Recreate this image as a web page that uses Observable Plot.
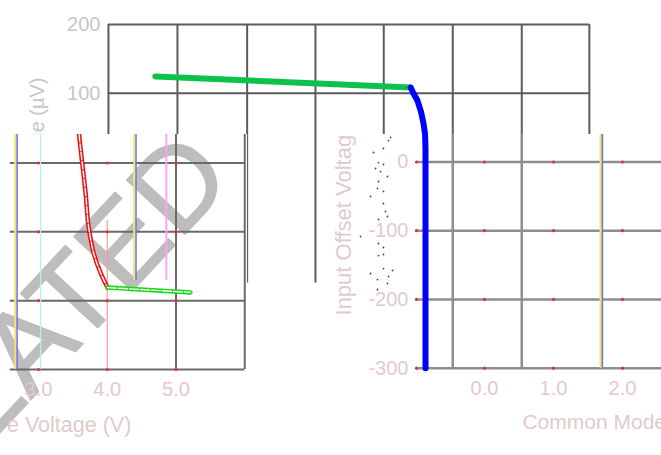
<!DOCTYPE html>
<html>
<head>
<meta charset="utf-8">
<script src="https://cdn.jsdelivr.net/npm/d3@7"></script>
<script src="https://cdn.jsdelivr.net/npm/@observablehq/plot@0.6"></script>
<style>
  body { margin: 0; background: #fff; }
  #chart { position: relative; width: 661px; height: 455px; overflow: hidden; background: #fff;
           font-family: "Liberation Sans", Arial, sans-serif; }
  .tile { position: absolute; overflow: hidden; background: #fff; }
  .tile.clear { background: transparent; }
  .tile svg { display: block; }
</style>
</head>
<body>
<div id="chart"></div>
<script>
// ---------- data ----------
// main chart: Input Offset Voltage (µV) vs Common Mode Voltage (V)
const mainGridCMV = [-5.45, -4.45, -3.44, -2.45, -1.46, -0.46, 0.54, 1.52];
const mainGridVosTop = [200, 100];
const topTickLabels = ["200", "100"];
const mainGridVosLow = [0, -100, -200, -300];
const lowTickLabels = ["0", "-100", "-200", "-300"];
const mainTickCMV = [0, 1, 2];
const mainTickLabels = ["0.0", "1.0", "2.0"];
const lowFrameLeftCMV = -0.986;
const greenCMV = [-4.77, -1.07];
const greenVos = [124.4, 108.3];
const blueCMV = [-1.07, -1.03, -0.97, -0.92, -0.884, -0.862, -0.855, -0.855];
const blueVos = [108.3, 100, 89, 73, 56, 41, 20, -300];
const markerCMV = [1.70];
const speckCMV = [-1.609, -1.464, -1.391, -1.362, -1.536, -1.464, -1.580, -1.507, -1.406, -1.536, -1.551, -1.464, -1.652, -1.464, -1.435, -1.406, -1.536, -1.797, -1.536, -1.464, -1.536, -1.464, -1.652, -1.464, -1.391, -1.551, -1.333, -1.406, -1.551];
const speckVos = [13.8, 19.6, 31.2, 35.6, -0.8, -3.7, -9.5, -13.9, -21.1, -28.4, -38.6, -42.9, -50.2, -60.4, -72.0, -79.3, -83.7, -108.4, -118.6, -124.4, -136.1, -134.6, -162.2, -155.0, -166.6, -171.0, -157.9, -176.8, -185.5];

// bottom-left inset
const insetGridCMV = [5.0, 6.0];
const insetTickCMV = [3, 4, 5];
const insetTickLabels = ["3.0", "4.0", "5.0"];
const insetGridVos = [0, -100, -200, -300];
const redCMV = [3.58, 3.596, 3.684, 3.727, 3.80, 3.90, 4.004];
const redVos = [54, 35.6, -42.9, -90.8, -130, -159, -181];
const greenInsetCMV = [4.004, 5.211];
const greenInsetVos = [-181, -188];
const insetMarkersCMV = [2.68, 3.03, 4.0, 4.41, 4.86];

const xTitle = "Common Mode Voltage (V)";
const yTitle = "Input Offset Voltage (µV)";
const watermark = "SIMULATED";

// ---------- tables built from the arrays ----------
const greenData = greenCMV.map((x, i) => ({x, y: greenVos[i]}));
const blueData = blueCMV.map((x, i) => ({x, y: blueVos[i]}));
const speckData = speckCMV.map((x, i) => ({x, y: speckVos[i]}));
const redData = redCMV.map((x, i) => ({x, y: redVos[i]}));
const greenInsetData = greenInsetCMV.map((x, i) => ({x, y: greenInsetVos[i]}));
const lowTickDots = [lowFrameLeftCMV, ...mainTickCMV].flatMap(x => mainGridVosLow.map(y => ({x, y})));
const insetTickDots = insetTickCMV.flatMap(x => insetGridVos.map(y => ({x, y})));

const FONT = '"Liberation Sans", Arial, sans-serif';
const GREY_TXT = "#c6c6c6";
const PINK_TXT = "#e2caca";
const root = document.getElementById("chart");

function tile(left, top, w, h, opts, cls) {
  const div = document.createElement("div");
  div.className = "tile" + (cls ? " " + cls : "");
  Object.assign(div.style, {left: left + "px", top: top + "px", width: w + "px", height: h + "px"});
  div.appendChild(Plot.plot({
    width: w, height: h, margin: 0,
    style: {fontFamily: FONT, background: "transparent"},
    ...opts
  }));
  root.appendChild(div);
}

function mainScales(left, top) {
  return {
    x: {type: "linear", domain: [0, 1], range: [484 - left, 553 - left], axis: null},
    y: {type: "linear", domain: [200, -300], range: [24 - top, 367.7 - top], axis: null}
  };
}
function insetScales(left, top) {
  return {
    x: {type: "linear", domain: [3, 5], range: [38 - left, 175.5 - left], axis: null},
    y: {type: "linear", domain: [0, -300], range: [162.5 - top, 369 - top], axis: null}
  };
}

function topGrid() {
  return [
    Plot.ruleY(mainGridVosTop, {y: d => d, x1: mainGridCMV[0], x2: mainGridCMV[mainGridCMV.length - 1], stroke: "#5c5c5c", strokeWidth: 2}),
    Plot.ruleX(mainGridCMV, {x: d => d, y1: 200, y2: -176, stroke: "#5c5c5c", strokeWidth: 2})
  ];
}

// top tile
tile(0, 0, 661, 134, {
  ...mainScales(0, 0),
  marks: [
    ...topGrid(),
    Plot.text(mainGridVosTop, {x: mainGridCMV[0], y: d => d, text: (d, i) => topTickLabels[i], textAnchor: "end", dx: -8, fontSize: 20, fill: GREY_TXT}),
    Plot.text([yTitle], {x: -6.478, y: 122.9, text: d => d, rotate: -90, textAnchor: "end", fontSize: 20, fill: GREY_TXT}),
    Plot.line(greenData, {x: "x", y: "y", stroke: "#0cc24a", strokeWidth: 6, strokeLinecap: "round"}),
    Plot.line(blueData, {x: "x", y: "y", stroke: "#0000ff", strokeWidth: 6, strokeLinejoin: "round"})
  ]
});
// bottom-middle strip (continuation of one grid line)
tile(247, 134, 78, 321, {...mainScales(247, 134), marks: topGrid()});

// bottom-right tile
tile(325, 134, 336, 321, {
  ...mainScales(325, 134),
  marks: [
    Plot.ruleY(mainGridVosLow, {y: d => d, x1: lowFrameLeftCMV, x2: 3, stroke: "#8e8e8e", strokeWidth: 2.5}),
    Plot.ruleX(mainGridCMV.slice(5, 7), {x: d => d, y1: 200, y2: -300, stroke: "#8e8e8e", strokeWidth: 2.5}),
    Plot.ruleX(markerCMV, {x: d => d, y1: 200, y2: -300, stroke: "#f1e56a", strokeWidth: 2.5, dx: -1}),
    Plot.ruleX(markerCMV, {x: d => d, y1: 200, y2: -300, stroke: "#6a6aff", strokeWidth: 1.5, dx: 0.6}),
    Plot.dot(lowTickDots, {x: "x", y: "y", r: 1.6, fill: "#e03434", stroke: null}),
    Plot.dot(speckData, {x: "x", y: "y", r: 0.9, fill: "#444", stroke: null}),
    Plot.line(blueData, {x: "x", y: "y", stroke: "#0000ff", strokeWidth: 6}),
    Plot.text(mainGridVosLow, {x: lowFrameLeftCMV, y: d => d, text: (d, i) => lowTickLabels[i], textAnchor: "end", dx: -8, fontSize: 20, fill: PINK_TXT}),
    Plot.text(mainTickCMV, {x: d => d, y: -300, text: (d, i) => mainTickLabels[i], dy: 20.5, fontSize: 20, fill: PINK_TXT}),
    Plot.text([xTitle], {x: 0.55, y: -300, text: d => d, textAnchor: "start", dy: 54, fontSize: 21, fill: PINK_TXT}),
    Plot.text([yTitle], {x: -2.043, y: -223.3, text: d => d, rotate: -90, textAnchor: "start", fontSize: 22, fill: PINK_TXT})
  ]
});

// bottom-left inset tile
tile(0, 134, 247, 321, {
  ...insetScales(0, 134),
  marks: [
    Plot.text([watermark], {text: d => d, frameAnchor: "top-left", dx: 235.1, dy: 45.6, rotate: -47, textAnchor: "end", lineAnchor: "bottom", fontSize: 116, fill: "#bdbdbd", stroke: "#bdbdbd", strokeWidth: 1.5}),
    Plot.ruleY(insetGridVos, {y: d => d, x1: 2.59, x2: insetGridCMV[1], stroke: "#6a6a6a", strokeWidth: 2}),
    Plot.ruleX(insetGridCMV, {x: d => d, y1: 45, y2: -300, stroke: "#6a6a6a", strokeWidth: 2}),
    Plot.ruleX([insetMarkersCMV[0]], {x: d => d, y1: 45, y2: -300, stroke: "#f1e56a", strokeWidth: 2.5, dx: -1}),
    Plot.ruleX([insetMarkersCMV[0]], {x: d => d, y1: 45, y2: -300, stroke: "#7070ff", strokeWidth: 1.5, dx: 0.6}),
    Plot.ruleX([insetMarkersCMV[1]], {x: d => d, y1: 45, y2: -300, stroke: "#b4f2f2", strokeWidth: 1.2}),
    Plot.ruleX([insetMarkersCMV[2]], {x: d => d, y1: -83.5, y2: -300, stroke: "#ff9a9a", strokeWidth: 1.2}),
    Plot.ruleX([insetMarkersCMV[3]], {x: d => d, y1: 45, y2: -170.7, stroke: "#f1e56a", strokeWidth: 2.5, dx: -1}),
    Plot.ruleX([insetMarkersCMV[3]], {x: d => d, y1: 45, y2: -170.7, stroke: "#7070ff", strokeWidth: 1.5, dx: 0.6}),
    Plot.ruleX([insetMarkersCMV[4]], {x: d => d, y1: 45, y2: -170.7, stroke: "#f4a8f4", strokeWidth: 2}),
    Plot.dot(insetTickDots, {x: "x", y: "y", r: 1.6, fill: "#e03434", stroke: null}),
    Plot.line(redData, {x: "x", y: "y", curve: "catmull-rom", stroke: "#e81414", strokeWidth: 4.5}),
    Plot.line(redData, {x: "x", y: "y", curve: "catmull-rom", stroke: "#ffffff", strokeWidth: 1.4, strokeDasharray: "7 2"}),
    Plot.line(greenInsetData, {x: "x", y: "y", stroke: "#18d818", strokeWidth: 4.5}),
    Plot.line(greenInsetData, {x: "x", y: "y", stroke: "#ffffff", strokeWidth: 1.4, strokeDasharray: "9 2"}),
    Plot.text(insetTickCMV, {x: d => d, y: -300, text: (d, i) => insetTickLabels[i], dy: 20, fontSize: 20, fill: PINK_TXT})
  ]
});
// inset x-axis title strip (cut at its left edge, as in the reference)
tile(8, 408, 239, 34, {
  ...insetScales(8, 408),
  marks: [
    Plot.text([xTitle], {x: 4.35, y: -300, text: d => d, textAnchor: "end", dy: 56, fontSize: 21.5, fill: PINK_TXT})
  ]
}, "clear");
</script>
</body>
</html>
